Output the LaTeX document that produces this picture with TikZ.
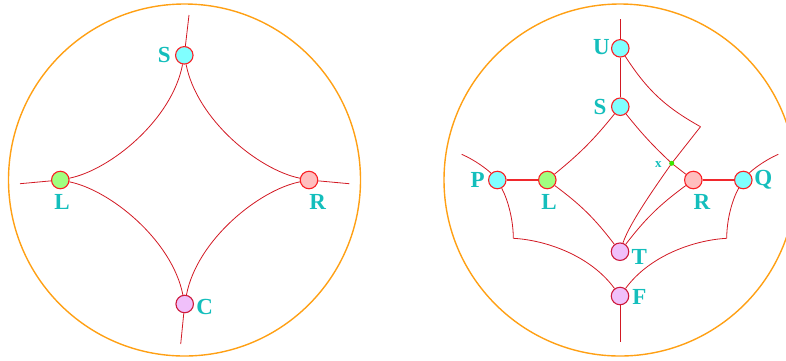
\documentclass[tikz,border=0pt]{standalone}
\usepackage{fontspec}
\setmainfont{Liberation Serif}
\definecolor{orng}{RGB}{255,160,20}
\definecolor{edgered}{RGB}{210,25,35}
\definecolor{brightred}{RGB}{240,40,45}
\definecolor{vertred}{RGB}{250,30,35}
\definecolor{vertdark}{RGB}{205,25,60}
\definecolor{cyanfill}{RGB}{128,255,255}
\definecolor{greenfill}{RGB}{160,255,128}
\definecolor{pinkfill}{RGB}{255,190,190}
\definecolor{violetfill}{RGB}{240,192,250}
\definecolor{labcol}{RGB}{20,190,188}
\definecolor{dotgreen}{RGB}{60,230,0}
\begin{document}
\begin{tikzpicture}[x=1pt,y=1pt,
  vert/.style={circle,draw=vertred,line width=1.1pt,minimum size=17.5pt,inner sep=0pt},
  vcyan/.style={vert,fill=cyanfill},
  vgreen/.style={vert,fill=greenfill},
  vpink/.style={vert,fill=pinkfill},
  vviolet/.style={vert,draw=vertdark,fill=violetfill},
  lab/.style={text=labcol,font=\bfseries\fontsize{23}{25}\selectfont,inner sep=0pt},
  smalllab/.style={text=labcol,font=\bfseries\fontsize{13}{15}\selectfont,inner sep=0pt},
  edge/.style={draw=edgered,line width=0.8pt},
  thickedge/.style={draw=brightred,line width=1.4pt},
  rim/.style={draw=orng,line width=1.4pt}]
\useasboundingbox (0,0) rectangle (786,-360);
\clip (0,0) rectangle (786,-360);
% discs
\draw[rim] (184.5,-180) circle (176);
\draw[rim] (620,-180) circle (176);
% ---------- left picture ----------
\node[vcyan] (lS) at (184.3,-55.3) {};
\node[vgreen] (lL) at (60.3,-180) {};
\node[vpink] (lR) at (309,-180) {};
\node[vviolet] (lC) at (184.7,-304) {};
\coordinate (lSt) at (189,-15);
\coordinate (lLt) at (20,-183.7);
\coordinate (lRt) at (349.3,-183.7);
\coordinate (lCt) at (180.7,-344);
\draw[edge] (lS) -- (lSt);
\draw[edge] (lL) -- (lLt);
\draw[edge] (lR) -- (lRt);
\draw[edge] (lC) -- (lCt);
\draw[edge] (lS) .. controls (172,-120) and (110,-170) .. (lL);
\draw[edge] (lS) .. controls (197,-120) and (259,-170) .. (lR);
\draw[edge] (lL) .. controls (110,-190) and (172,-240) .. (lC);
\draw[edge] (lR) .. controls (259,-190) and (197,-240) .. (lC);
\node[lab] (tlS) at (164.3,-55) {S};
\node[lab] (tlL) at (62,-202) {L};
\node[lab] (tlR) at (317.7,-202) {R};
\node[lab] (tlC) at (204.7,-307) {C};
% ---------- right picture ----------
\node[vcyan] (rU) at (620.3,-48.3) {};
\node[vcyan] (rS) at (620.3,-106.7) {};
\node[vcyan] (rP) at (497.3,-180) {};
\node[vgreen] (rL) at (547.3,-180) {};
\node[vpink] (rR) at (693.3,-180) {};
\node[vcyan] (rQ) at (743.3,-180) {};
\node[vviolet] (rT) at (620,-251.7) {};
\node[vviolet] (rF) at (620,-296) {};
\coordinate (rUt) at (620.3,-19.3);
\coordinate (rFt) at (620,-341.7);
\coordinate (rc) at (700.5,-126.7);
\coordinate (xc) at (671.7,-163.3);
\coordinate (pTop) at (461.7,-154.3);
\coordinate (pBot) at (513.3,-238.3);
\coordinate (qTop) at (778.3,-154.3);
\coordinate (qBot) at (726.7,-238.3);
\draw[edge] (rU) -- (rUt);
\draw[edge] (rU) -- (rS);
\draw[edge] (rF) -- (rFt);
\draw[thickedge] (rP) -- (rL);
\draw[thickedge] (rR) -- (rQ);
\draw[edge] (rS) to[bend left=6] (rL);
\draw[edge] (rS) to[bend right=4] (xc);
\draw[edge] (xc) -- (rR);
\draw[edge] (rL) to[bend left=8] (rT);
\draw[edge] (rR) to[bend right=8] (rT);
\draw[edge] (rU) to[bend right=14] (rc);
\draw[edge] (rc) -- (xc);
\draw[edge] (xc) .. controls (658,-183) and (630,-222) .. (rT);
\draw[edge] (pTop) .. controls (475,-160) and (488,-170) .. (rP);
\draw[edge] (rP) .. controls (508,-200) and (513.3,-220) .. (pBot);
\draw[edge] (pBot) .. controls (545,-240) and (590,-255) .. (rF);
\draw[edge] (qTop) .. controls (765,-160) and (752,-170) .. (rQ);
\draw[edge] (rQ) .. controls (732,-200) and (726.7,-220) .. (qBot);
\draw[edge] (qBot) .. controls (695,-240) and (650,-255) .. (rF);
\node[circle,fill=dotgreen,minimum size=5pt,inner sep=0pt] (rx) at (xc) {};
\node[lab] (trU) at (601.3,-47.3) {U};
\node[lab] (trS) at (600,-106.7) {S};
\node[lab] (trP) at (477.7,-180) {P};
\node[lab] (trL) at (549,-202.3) {L};
\node[lab] (trR) at (702,-202.3) {R};
\node[lab] (trQ) at (763.3,-180) {Q};
\node[lab] (trT) at (639.3,-256.7) {T};
\node[lab] (trF) at (639.3,-296.7) {F};
\node[smalllab] (trx) at (658.3,-164.3) {x};
\end{tikzpicture}
\end{document}
